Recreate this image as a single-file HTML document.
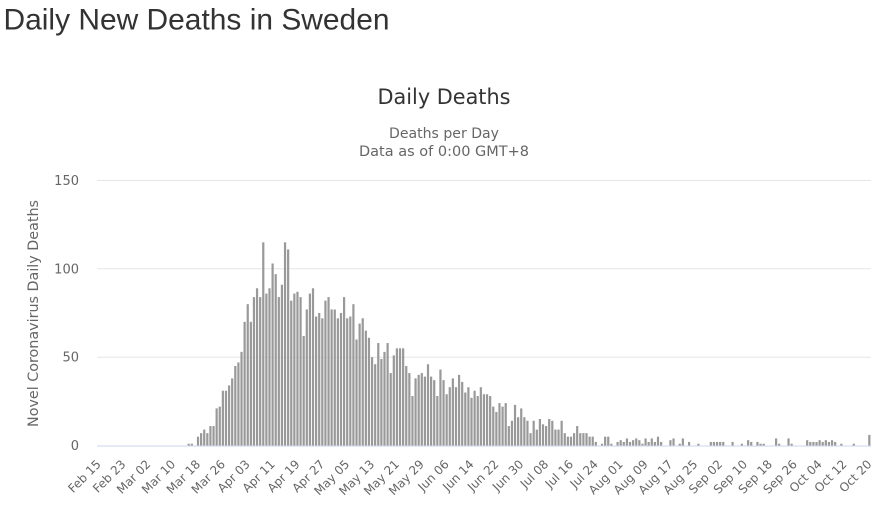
<!DOCTYPE html>
<html>
<head>
<meta charset="utf-8">
<style>
  html, body { margin: 0; padding: 0; background: #ffffff; }
  svg { display: block; }
  .ax { font-family: "DejaVu Sans", "Liberation Sans", sans-serif; fill: #666666; }
</style>
</head>
<body>
<svg width="877" height="512" viewBox="0 0 877 512" xmlns="http://www.w3.org/2000/svg">
  <rect x="0" y="0" width="877" height="512" fill="#ffffff"/>

  <!-- Page title -->
  <text x="3.5" y="29.5" font-family="Liberation Sans, Arial, sans-serif" font-size="30" fill="#333333" textLength="386" lengthAdjust="spacingAndGlyphs">Daily New Deaths in Sweden</text>

  <!-- Chart title & subtitle -->
  <text x="444" y="104" text-anchor="middle" font-family="DejaVu Sans, sans-serif" font-size="21" fill="#333333" textLength="133" lengthAdjust="spacingAndGlyphs">Daily Deaths</text>
  <text x="444" y="138" text-anchor="middle" class="ax" font-size="14" textLength="110" lengthAdjust="spacingAndGlyphs">Deaths per Day</text>
  <text x="444" y="156" text-anchor="middle" class="ax" font-size="14" textLength="170" lengthAdjust="spacingAndGlyphs">Data as of 0:00 GMT+8</text>

  <!-- Gridlines -->
  <g stroke="#e6e6e6" stroke-width="1">
    <line x1="97" y1="180.5" x2="871" y2="180.5"/>
    <line x1="97" y1="268.8" x2="871" y2="268.8"/>
    <line x1="97" y1="357.2" x2="871" y2="357.2"/>
  </g>

  <!-- Y labels -->
  <g class="ax" font-size="13" text-anchor="end">
    <text x="79" y="185">150</text>
    <text x="79" y="273.3">100</text>
    <text x="79" y="361.7">50</text>
    <text x="79" y="450">0</text>
  </g>

  <!-- Y axis title -->
  <text transform="translate(38,313.5) rotate(-90)" text-anchor="middle" class="ax" font-size="14" textLength="227" lengthAdjust="spacingAndGlyphs">Novel Coronavirus Daily Deaths</text>

  <!-- Bars -->
  <g transform="translate(97.45,445.5) scale(3.108,-1.7667)" fill="#999999">
    <rect x="29" width=".71" height="1"/>
    <rect x="30" width=".71" height="1"/>
    <rect x="32" width=".71" height="5"/>
    <rect x="33" width=".71" height="7"/>
    <rect x="34" width=".71" height="9"/>
    <rect x="35" width=".71" height="7"/>
    <rect x="36" width=".71" height="11"/>
    <rect x="37" width=".71" height="11"/>
    <rect x="38" width=".71" height="21"/>
    <rect x="39" width=".71" height="22"/>
    <rect x="40" width=".71" height="31"/>
    <rect x="41" width=".71" height="31"/>
    <rect x="42" width=".71" height="34"/>
    <rect x="43" width=".71" height="38"/>
    <rect x="44" width=".71" height="45"/>
    <rect x="45" width=".71" height="47"/>
    <rect x="46" width=".71" height="53"/>
    <rect x="47" width=".71" height="70"/>
    <rect x="48" width=".71" height="80"/>
    <rect x="49" width=".71" height="70"/>
    <rect x="50" width=".71" height="84"/>
    <rect x="51" width=".71" height="89"/>
    <rect x="52" width=".71" height="84"/>
    <rect x="53" width=".71" height="115"/>
    <rect x="54" width=".71" height="86"/>
    <rect x="55" width=".71" height="89"/>
    <rect x="56" width=".71" height="103"/>
    <rect x="57" width=".71" height="97"/>
    <rect x="58" width=".71" height="84"/>
    <rect x="59" width=".71" height="91"/>
    <rect x="60" width=".71" height="115"/>
    <rect x="61" width=".71" height="111"/>
    <rect x="62" width=".71" height="82"/>
    <rect x="63" width=".71" height="86"/>
    <rect x="64" width=".71" height="87"/>
    <rect x="65" width=".71" height="84"/>
    <rect x="66" width=".71" height="62"/>
    <rect x="67" width=".71" height="77"/>
    <rect x="68" width=".71" height="86"/>
    <rect x="69" width=".71" height="89"/>
    <rect x="70" width=".71" height="73"/>
    <rect x="71" width=".71" height="75"/>
    <rect x="72" width=".71" height="72"/>
    <rect x="73" width=".71" height="82"/>
    <rect x="74" width=".71" height="84"/>
    <rect x="75" width=".71" height="77"/>
    <rect x="76" width=".71" height="77"/>
    <rect x="77" width=".71" height="72"/>
    <rect x="78" width=".71" height="75"/>
    <rect x="79" width=".71" height="84"/>
    <rect x="80" width=".71" height="72"/>
    <rect x="81" width=".71" height="73"/>
    <rect x="82" width=".71" height="80"/>
    <rect x="83" width=".71" height="60"/>
    <rect x="84" width=".71" height="69"/>
    <rect x="85" width=".71" height="72"/>
    <rect x="86" width=".71" height="65"/>
    <rect x="87" width=".71" height="61"/>
    <rect x="88" width=".71" height="50"/>
    <rect x="89" width=".71" height="46"/>
    <rect x="90" width=".71" height="58"/>
    <rect x="91" width=".71" height="49"/>
    <rect x="92" width=".71" height="53"/>
    <rect x="93" width=".71" height="58"/>
    <rect x="94" width=".71" height="41"/>
    <rect x="95" width=".71" height="51"/>
    <rect x="96" width=".71" height="55"/>
    <rect x="97" width=".71" height="55"/>
    <rect x="98" width=".71" height="55"/>
    <rect x="99" width=".71" height="45"/>
    <rect x="100" width=".71" height="41"/>
    <rect x="101" width=".71" height="28"/>
    <rect x="102" width=".71" height="38"/>
    <rect x="103" width=".71" height="40"/>
    <rect x="104" width=".71" height="41"/>
    <rect x="105" width=".71" height="39"/>
    <rect x="106" width=".71" height="46"/>
    <rect x="107" width=".71" height="39"/>
    <rect x="108" width=".71" height="37"/>
    <rect x="109" width=".71" height="28"/>
    <rect x="110" width=".71" height="43"/>
    <rect x="111" width=".71" height="37"/>
    <rect x="112" width=".71" height="29"/>
    <rect x="113" width=".71" height="33"/>
    <rect x="114" width=".71" height="38"/>
    <rect x="115" width=".71" height="33"/>
    <rect x="116" width=".71" height="40"/>
    <rect x="117" width=".71" height="36"/>
    <rect x="118" width=".71" height="30"/>
    <rect x="119" width=".71" height="33"/>
    <rect x="120" width=".71" height="27"/>
    <rect x="121" width=".71" height="31"/>
    <rect x="122" width=".71" height="28"/>
    <rect x="123" width=".71" height="33"/>
    <rect x="124" width=".71" height="29"/>
    <rect x="125" width=".71" height="29"/>
    <rect x="126" width=".71" height="28"/>
    <rect x="127" width=".71" height="22"/>
    <rect x="128" width=".71" height="19"/>
    <rect x="129" width=".71" height="24"/>
    <rect x="130" width=".71" height="22"/>
    <rect x="131" width=".71" height="24"/>
    <rect x="132" width=".71" height="11"/>
    <rect x="133" width=".71" height="14"/>
    <rect x="134" width=".71" height="23"/>
    <rect x="135" width=".71" height="16"/>
    <rect x="136" width=".71" height="21"/>
    <rect x="137" width=".71" height="16"/>
    <rect x="138" width=".71" height="14"/>
    <rect x="139" width=".71" height="7"/>
    <rect x="140" width=".71" height="14"/>
    <rect x="141" width=".71" height="9"/>
    <rect x="142" width=".71" height="15"/>
    <rect x="143" width=".71" height="12"/>
    <rect x="144" width=".71" height="11"/>
    <rect x="145" width=".71" height="15"/>
    <rect x="146" width=".71" height="14"/>
    <rect x="147" width=".71" height="9"/>
    <rect x="148" width=".71" height="9"/>
    <rect x="149" width=".71" height="14"/>
    <rect x="150" width=".71" height="7"/>
    <rect x="151" width=".71" height="5"/>
    <rect x="152" width=".71" height="5"/>
    <rect x="153" width=".71" height="7"/>
    <rect x="154" width=".71" height="11"/>
    <rect x="155" width=".71" height="7"/>
    <rect x="156" width=".71" height="7"/>
    <rect x="157" width=".71" height="7"/>
    <rect x="158" width=".71" height="5"/>
    <rect x="159" width=".71" height="5"/>
    <rect x="160" width=".71" height="2"/>
    <rect x="162" width=".71" height="1"/>
    <rect x="163" width=".71" height="5"/>
    <rect x="164" width=".71" height="5"/>
    <rect x="165" width=".71" height="1"/>
    <rect x="167" width=".71" height="2"/>
    <rect x="168" width=".71" height="3"/>
    <rect x="169" width=".71" height="2"/>
    <rect x="170" width=".71" height="4"/>
    <rect x="171" width=".71" height="2"/>
    <rect x="172" width=".71" height="3"/>
    <rect x="173" width=".71" height="4"/>
    <rect x="174" width=".71" height="3"/>
    <rect x="175" width=".71" height="1"/>
    <rect x="176" width=".71" height="4"/>
    <rect x="177" width=".71" height="2"/>
    <rect x="178" width=".71" height="4"/>
    <rect x="179" width=".71" height="2"/>
    <rect x="180" width=".71" height="5"/>
    <rect x="181" width=".71" height="2"/>
    <rect x="184" width=".71" height="3"/>
    <rect x="185" width=".71" height="4"/>
    <rect x="187" width=".71" height="1"/>
    <rect x="188" width=".71" height="4"/>
    <rect x="190" width=".71" height="2"/>
    <rect x="193" width=".71" height="1"/>
    <rect x="197" width=".71" height="2"/>
    <rect x="198" width=".71" height="2"/>
    <rect x="199" width=".71" height="2"/>
    <rect x="200" width=".71" height="2"/>
    <rect x="201" width=".71" height="2"/>
    <rect x="204" width=".71" height="2"/>
    <rect x="207" width=".71" height="1"/>
    <rect x="209" width=".71" height="3"/>
    <rect x="210" width=".71" height="2"/>
    <rect x="212" width=".71" height="2"/>
    <rect x="213" width=".71" height="1"/>
    <rect x="214" width=".71" height="1"/>
    <rect x="218" width=".71" height="4"/>
    <rect x="219" width=".71" height="1"/>
    <rect x="222" width=".71" height="4"/>
    <rect x="223" width=".71" height="1"/>
    <rect x="228" width=".71" height="3"/>
    <rect x="229" width=".71" height="2"/>
    <rect x="230" width=".71" height="2"/>
    <rect x="231" width=".71" height="2"/>
    <rect x="232" width=".71" height="3"/>
    <rect x="233" width=".71" height="2"/>
    <rect x="234" width=".71" height="3"/>
    <rect x="235" width=".71" height="2"/>
    <rect x="236" width=".71" height="3"/>
    <rect x="237" width=".71" height="2"/>
    <rect x="239" width=".71" height="1"/>
    <rect x="243" width=".71" height="1"/>
    <rect x="248" width=".71" height="6"/>
  </g>

  <!-- X axis line -->
  <line x1="97" y1="446" x2="871" y2="446" stroke="#ccd6eb" stroke-width="1"/>

  <!-- X labels -->
  <g class="ax" font-size="12" text-anchor="end">
    <text transform="translate(101.6,465) rotate(-45)">Feb 15</text>
    <text transform="translate(126.4,465) rotate(-45)">Feb 23</text>
    <text transform="translate(151.3,465) rotate(-45)">Mar 02</text>
    <text transform="translate(176.2,465) rotate(-45)">Mar 10</text>
    <text transform="translate(201.0,465) rotate(-45)">Mar 18</text>
    <text transform="translate(225.9,465) rotate(-45)">Mar 26</text>
    <text transform="translate(250.7,465) rotate(-45)">Apr 03</text>
    <text transform="translate(275.6,465) rotate(-45)">Apr 11</text>
    <text transform="translate(300.5,465) rotate(-45)">Apr 19</text>
    <text transform="translate(325.3,465) rotate(-45)">Apr 27</text>
    <text transform="translate(350.2,465) rotate(-45)">May 05</text>
    <text transform="translate(375.1,465) rotate(-45)">May 13</text>
    <text transform="translate(399.9,465) rotate(-45)">May 21</text>
    <text transform="translate(424.8,465) rotate(-45)">May 29</text>
    <text transform="translate(449.7,465) rotate(-45)">Jun 06</text>
    <text transform="translate(474.5,465) rotate(-45)">Jun 14</text>
    <text transform="translate(499.4,465) rotate(-45)">Jun 22</text>
    <text transform="translate(524.3,465) rotate(-45)">Jun 30</text>
    <text transform="translate(549.1,465) rotate(-45)">Jul 08</text>
    <text transform="translate(574.0,465) rotate(-45)">Jul 16</text>
    <text transform="translate(598.8,465) rotate(-45)">Jul 24</text>
    <text transform="translate(623.7,465) rotate(-45)">Aug 01</text>
    <text transform="translate(648.6,465) rotate(-45)">Aug 09</text>
    <text transform="translate(673.4,465) rotate(-45)">Aug 17</text>
    <text transform="translate(698.3,465) rotate(-45)">Aug 25</text>
    <text transform="translate(723.2,465) rotate(-45)">Sep 02</text>
    <text transform="translate(748.0,465) rotate(-45)">Sep 10</text>
    <text transform="translate(772.9,465) rotate(-45)">Sep 18</text>
    <text transform="translate(797.8,465) rotate(-45)">Sep 26</text>
    <text transform="translate(822.6,465) rotate(-45)">Oct 04</text>
    <text transform="translate(847.5,465) rotate(-45)">Oct 12</text>
    <text transform="translate(872.4,465) rotate(-45)">Oct 20</text>
  </g>
</svg>
</body>
</html>
